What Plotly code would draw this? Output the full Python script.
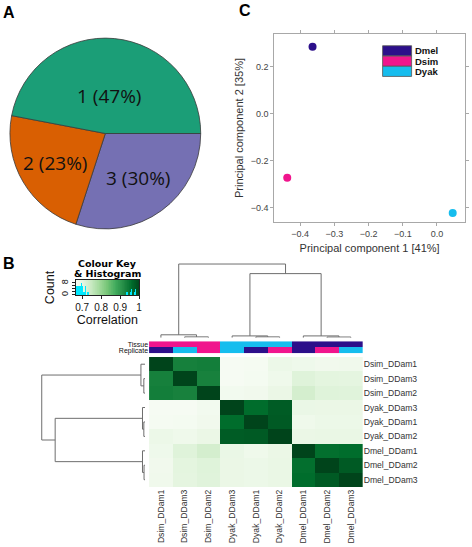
import numpy as np
import plotly.graph_objects as go

W, H = 472, 547

# ---------------- data ----------------
# Panel A: pie
pie_labels = ["1", "2", "3"]
pie_values = [47, 23, 30]
pie_colors = ["#1b9e77", "#d95f02", "#7570b3"]

# Panel C: PCA
species = ["Dmel", "Dsim", "Dyak"]
pc1 = [-0.364, -0.438, 0.046]
pc2 = [0.283, -0.273, -0.423]
species_colors = ["#2c0f8a", "#f0158d", "#16bdee"]
pc1_ticks = [-0.4, -0.3, -0.2, -0.1, 0.0]
pc2_ticks = [-0.4, -0.2, 0.0, 0.2]

# Panel B: correlation heatmap (display order)
samples = ["Dsim_DDam1", "Dsim_DDam3", "Dsim_DDam2",
           "Dyak_DDam3", "Dyak_DDam1", "Dyak_DDam2",
           "Dmel_DDam1", "Dmel_DDam2", "Dmel_DDam3"]
corr = [
    [1.000, 0.932, 0.935, 0.668, 0.670, 0.690, 0.685, 0.680, 0.682],
    [0.932, 1.000, 0.930, 0.668, 0.672, 0.684, 0.715, 0.708, 0.706],
    [0.935, 0.930, 1.000, 0.676, 0.680, 0.694, 0.730, 0.715, 0.714],
    [0.668, 0.668, 0.676, 1.000, 0.958, 0.975, 0.695, 0.694, 0.694],
    [0.670, 0.672, 0.680, 0.958, 1.000, 0.978, 0.684, 0.690, 0.690],
    [0.690, 0.684, 0.694, 0.975, 0.978, 1.000, 0.694, 0.696, 0.696],
    [0.685, 0.715, 0.730, 0.695, 0.684, 0.694, 1.000, 0.955, 0.958],
    [0.680, 0.708, 0.715, 0.694, 0.690, 0.696, 0.955, 1.000, 0.978],
    [0.682, 0.706, 0.714, 0.694, 0.690, 0.696, 0.958, 0.978, 1.000],
]
# hierarchical clustering merges (leaf indices in display order; new nodes numbered from 9)
merges = [(1, 2, 0.012), (0, 9, 0.040), (4, 5, 0.012), (3, 11, 0.025),
          (7, 8, 0.010), (6, 13, 0.025), (12, 14, 0.870), (10, 15, 1.000)]
key_ticks = [0.7, 0.8, 0.9, 1.0]
key_ticklabels = ["0.7", "0.8", "0.9", "1"]
count_ticks = [0, 2, 4, 6, 8]
count_ticklabels = ["0", "", "", "", "8"]
zmin, zmax = 0.665, 1.0

greens = ["#f7fcf5", "#e5f5e0", "#c7e9c0", "#a1d99b", "#74c476",
          "#41ab5d", "#238b45", "#006d2c", "#00441b"]
greens_scale = [[i / (len(greens) - 1), c] for i, c in enumerate(greens)]

# ---------------- helpers ----------------
def dx(a, b):
    return [a / W, b / W]

def dy(top, bottom):
    return [1 - bottom / H, 1 - top / H]

def px(x):
    return x / W

def py(y):
    return 1 - y / H

def dendro_lines(merges, n):
    pos = {i: float(i) for i in range(n)}
    ht = {i: 0.0 for i in range(n)}
    xs, ys = [], []
    for k, (a, b, h) in enumerate(merges):
        node = n + k
        xa, xb = pos[a], pos[b]
        xs += [xa, xa, xb, xb, None]
        ys += [ht[a], h, h, ht[b], None]
        pos[node] = (xa + xb) / 2
        ht[node] = h
    return xs, ys

SANS = "Liberation Sans, Arial, sans-serif"
fig = go.Figure()

# ---------------- Panel A: pie ----------------
# slices run counter-clockwise from 3 o'clock in the reference;
# drawn here clockwise from 3 o'clock in reversed order (same geometry)
pie_cx, pie_cy, pie_r = 106.0, 133.0, 96.0
fig.add_trace(go.Pie(
    values=pie_values[::-1], labels=pie_labels[::-1], sort=False,
    direction="clockwise", rotation=90,
    marker=dict(colors=pie_colors[::-1], line=dict(color="#3a3a3a", width=0.8)),
    textinfo="none", hoverinfo="skip", showlegend=False,
    domain=dict(x=dx(pie_cx - pie_r, pie_cx + pie_r), y=dy(pie_cy - pie_r, pie_cy + pie_r)),
))
label_rfrac = [0.39, 0.61, 0.58]
tot = sum(pie_values)
start = 0.0
annotations = []
for lab, v, rf in zip(pie_labels, pie_values, label_rfrac):
    span = 360.0 * v / tot
    mid = np.deg2rad(start + span / 2)
    start += span
    ax_ = pie_cx + rf * pie_r * np.cos(mid)
    ay_ = pie_cy - rf * pie_r * np.sin(mid)
    annotations.append(dict(x=px(ax_), y=py(ay_), xref="paper", yref="paper",
                            xanchor="center", yanchor="middle",
                            text=f"{lab} ({v}%)", showarrow=False,
                            font=dict(family="Open Sans, sans-serif", size=19, color="#111111")))

# ---------------- Panel C: PCA ----------------
for s, x, y, c in zip(species, pc1, pc2, species_colors):
    fig.add_trace(go.Scatter(x=[x], y=[y], mode="markers", name=s,
                             marker=dict(color=c, size=8), showlegend=False,
                             hoverinfo="skip", xaxis="x", yaxis="y", cliponaxis=False))

# ---------------- Panel B: color key ----------------
zflat = np.array(corr).ravel()
key_edges = np.linspace(zmin, zmax, 101)
key_mid = (key_edges[:-1] + key_edges[1:]) / 2
fig.add_trace(go.Heatmap(z=[key_mid], x=key_edges, y=[0, 10], colorscale=greens_scale,
                         zmin=zmin, zmax=zmax, showscale=False, hoverinfo="skip",
                         xaxis="x2", yaxis="y2"))
fig.add_trace(go.Histogram(x=zflat, xbins=dict(start=zmin, end=zmax + 0.01, size=0.003),
                           marker=dict(color="#00e8ff", line=dict(width=0)),
                           showlegend=False, hoverinfo="skip", xaxis="x2", yaxis="y2"))

# ---------------- Panel B: dendrograms ----------------
n = len(samples)
dxs, dys = dendro_lines(merges, n)
fig.add_trace(go.Scatter(x=dxs, y=dys, mode="lines", line=dict(color="#6e6e6e", width=1),
                         showlegend=False, hoverinfo="skip", xaxis="x3", yaxis="y3"))
fig.add_trace(go.Scatter(x=dys, y=dxs, mode="lines", line=dict(color="#6e6e6e", width=1),
                         showlegend=False, hoverinfo="skip", xaxis="x6", yaxis="y6"))

# ---------------- Panel B: side colour bars ----------------
tissue_codes = [species.index(s.split("_")[0]) for s in samples]
rep_codes = [int(s[-1]) - 1 for s in samples]
disc = []
for i, c in enumerate(species_colors):
    disc += [[i / 3, c], [(i + 1) / 3, c]]
fig.add_trace(go.Heatmap(z=[tissue_codes, rep_codes], x=list(range(n)), y=[0, 1],
                         colorscale=disc, zmin=-0.5, zmax=2.5, showscale=False,
                         hoverinfo="skip", xaxis="x4", yaxis="y4"))

# ---------------- Panel B: heatmap ----------------
fig.add_trace(go.Heatmap(z=corr, x=list(range(n)), y=list(range(n)), colorscale=greens_scale,
                         zmin=zmin, zmax=zmax, showscale=False, hoverinfo="skip",
                         xaxis="x5", yaxis="y5"))

# ---------------- layout ----------------
hm_x = dx(150, 365)
hm_y = dy(357.3, 487.7)
top_h = 1.02
left_h = 1.02
pca_axis_common = dict(showgrid=False, zeroline=False, showline=True, mirror="ticks",
                       linecolor="#a8a8a8", ticks="outside", ticklen=3, tickcolor="#a8a8a8",
                       tickfont=dict(family=SANS, size=9, color="#444444"))
noax = dict(visible=False, showgrid=False, zeroline=False)

fig.update_layout(
    width=W, height=H, margin=dict(l=0, r=0, t=0, b=0),
    paper_bgcolor="white", plot_bgcolor="white",
    showlegend=False, bargap=0,
    xaxis=dict(domain=dx(276, 468), range=[-0.476, 0.082], tickvals=pc1_ticks,
               tickformat=".1f", anchor="y",
               title=dict(text="Principal component 1 [41%]", standoff=6,
                          font=dict(family=SANS, size=11, color="#333333")),
               **pca_axis_common),
    yaxis=dict(domain=dy(33, 222), range=[-0.462, 0.338], tickvals=pc2_ticks,
               tickformat=".1f", anchor="x",
               title=dict(text="Principal component 2 [35%]", standoff=4,
                          font=dict(family=SANS, size=11, color="#333333")),
               **pca_axis_common),
    xaxis2=dict(domain=dx(76, 140), range=[zmin, zmax], anchor="y2",
                tickvals=key_ticks, ticktext=key_ticklabels, ticks="outside", ticklen=3,
                tickcolor="#222222", showline=True, mirror=True, linecolor="#222222",
                showgrid=False, zeroline=False,
                tickfont=dict(family=SANS, size=10, color="#111111"),
                title=dict(text="Correlation", standoff=2,
                           font=dict(family=SANS, size=12.5, color="#111111"))),
    yaxis2=dict(domain=dy(280, 295), range=[0, 10], anchor="x2",
                tickvals=count_ticks, ticktext=count_ticklabels, ticks="outside", ticklen=3,
                tickcolor="#222222", tickangle=-90, showline=True, mirror=True,
                linecolor="#222222", showgrid=False, zeroline=False,
                tickfont=dict(family=SANS, size=9, color="#111111"),
                title=dict(text="Count", standoff=2,
                           font=dict(family=SANS, size=12.5, color="#111111"))),
    xaxis3=dict(domain=hm_x, range=[-0.5, n - 0.5], anchor="y3", **noax),
    yaxis3=dict(domain=dy(338 - 74 * top_h, 338), range=[0, top_h], anchor="x3", **noax),
    xaxis4=dict(domain=hm_x, range=[-0.5, n - 0.5], anchor="y4", **noax),
    yaxis4=dict(domain=dy(341.5, 353.5), range=[1.5, -0.5], anchor="x4",
                tickvals=[0, 1], ticktext=["Tissue", "Replicate"], showgrid=False,
                zeroline=False, showline=False, ticks="",
                tickfont=dict(family=SANS, size=7, color="#111111")),
    xaxis5=dict(domain=hm_x, range=[-0.5, n - 0.5], anchor="y5",
                tickvals=list(range(n)), ticktext=samples, tickangle=-90, ticks="",
                showgrid=False, zeroline=False, showline=False,
                tickfont=dict(family=SANS, size=8.6, color="#333333")),
    yaxis5=dict(domain=hm_y, range=[n - 0.5, -0.5], anchor="x5", side="right",
                tickvals=list(range(n)), ticktext=samples, ticks="",
                showgrid=False, zeroline=False, showline=False,
                tickfont=dict(family=SANS, size=8.6, color="#333333")),
    xaxis6=dict(domain=dx(146 - 104 * left_h, 146), range=[left_h, 0], anchor="y6", **noax),
    yaxis6=dict(domain=hm_y, range=[n - 0.5, -0.5], anchor="x6", **noax),
)

# legend of panel C (drawn inside the PCA axes)
shapes = []
leg_x0, leg_x1 = 0.568, 0.720
leg_tops = [0.937, 0.882, 0.828]
leg_h = 0.054
for s, c, t in zip(species, species_colors, leg_tops):
    shapes.append(dict(type="rect", xref="x domain", yref="y domain",
                       x0=leg_x0, x1=leg_x1, y0=t - leg_h, y1=t,
                       fillcolor=c, line=dict(color="#555555", width=0.8)))
    annotations.append(dict(xref="x domain", yref="y domain", x=leg_x1 + 0.008, y=t - leg_h / 2,
                            text=s, showarrow=False, xanchor="left", yanchor="middle",
                            font=dict(family=SANS, size=9.5, color="#111111", weight="bold")))

# panel letters
for letter, lx, ly in [("A", 9, 12), ("B", 9, 263), ("C", 247, 10)]:
    annotations.append(dict(x=px(lx), y=py(ly), xref="paper", yref="paper", text=letter,
                            showarrow=False, xanchor="center", yanchor="middle",
                            font=dict(family=SANS, size=16, color="black", weight="bold")))

# colour key title
for txt, ty in [("Colour Key", 263.5), ("&amp; Histogram", 273)]:
    annotations.append(dict(x=px(108), y=py(ty), xref="paper", yref="paper", text=txt,
                            showarrow=False, xanchor="center", yanchor="middle",
                            font=dict(family="DejaVu Sans, sans-serif", size=9.5,
                                      color="black", weight="bold")))

fig.update_layout(shapes=shapes, annotations=annotations)
fig.write_html("out.html", config={"displayModeBar": False},
               post_script="document.body.style.margin='0';document.body.style.padding='0';")
